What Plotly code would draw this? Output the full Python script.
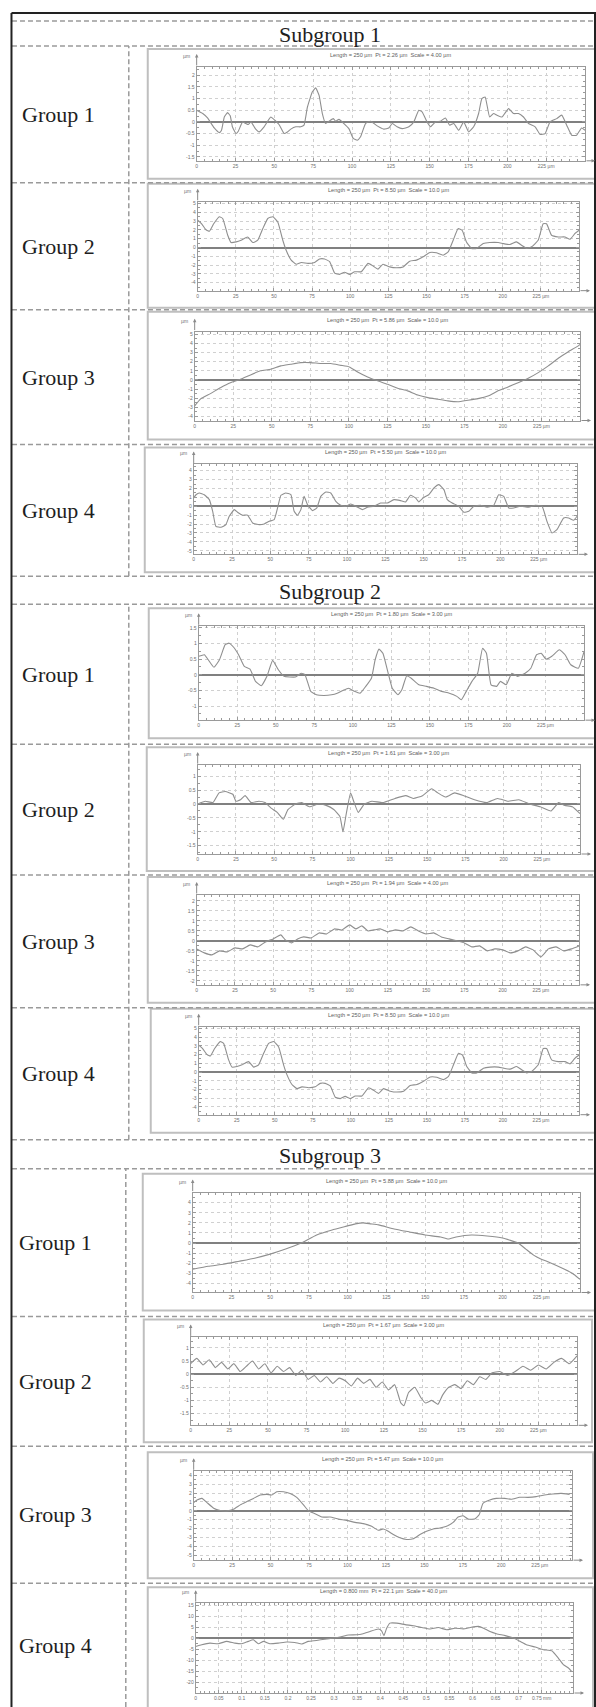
import plotly.graph_objects as go

W, H = 596, 1707

# ---------------- text ----------------
subgroup_labels = ["Subgroup 1", "Subgroup 2", "Subgroup 3"]
group_labels = ["Group 1", "Group 2", "Group 3", "Group 4"]

headers = [
    "Length = 250 µm  Pt = 2.26 µm  Scale = 4.00 µm",
    "Length = 250 µm  Pt = 8.50 µm  Scale = 10.0 µm",
    "Length = 250 µm  Pt = 5.86 µm  Scale = 10.0 µm",
    "Length = 250 µm  Pt = 5.50 µm  Scale = 10.0 µm",
    "Length = 250 µm  Pt = 1.80 µm  Scale = 3.00 µm",
    "Length = 250 µm  Pt = 1.61 µm  Scale = 3.00 µm",
    "Length = 250 µm  Pt = 1.94 µm  Scale = 4.00 µm",
    "Length = 250 µm  Pt = 8.50 µm  Scale = 10.0 µm",
    "Length = 250 µm  Pt = 5.88 µm  Scale = 10.0 µm",
    "Length = 250 µm  Pt = 1.67 µm  Scale = 3.00 µm",
    "Length = 250 µm  Pt = 5.47 µm  Scale = 10.0 µm",
    "Length = 0.800 mm  Pt = 22.1 µm  Scale = 40.0 µm",
]

x_ticks_um = [0, 25, 50, 75, 100, 125, 150, 175, 200, 225]
x_ticktext_um = ["0", "25", "50", "75", "100", "125", "150", "175", "200", "225 µm"]
x_ticks_mm = [0, 0.05, 0.1, 0.15, 0.2, 0.25, 0.3, 0.35, 0.4, 0.45, 0.5, 0.55, 0.6, 0.65, 0.7, 0.75]
x_ticktext_mm = ["0", "0.05", "0.1", "0.15", "0.2", "0.25", "0.3", "0.35", "0.4", "0.45",
                 "0.5", "0.55", "0.6", "0.65", "0.7", "0.75 mm"]

y_ticks_a = [-1.5, -1, -0.5, 0, 0.5, 1, 1.5, 2]
y_ticks_b = [-4, -3, -2, -1, 0, 1, 2, 3, 4, 5]
y_ticks_c = [-5, -4, -3, -2, -1, 0, 1, 2, 3, 4]
y_ticks_d = [-1, -0.5, 0, 0.5, 1, 1.5]
y_ticks_e = [-1.5, -1, -0.5, 0, 0.5, 1]
y_ticks_f = [-2, -1.5, -1, -0.5, 0, 0.5, 1, 1.5, 2]
y_ticks_g = [-4, -3, -2, -1, 0, 1, 2, 3, 4]
y_ticks_h = [-20, -15, -10, -5, 0, 5, 10, 15]

# ---------------- profiles (x, height) ----------------
sg1_g1 = [(0, 0.5), (3.9, 0.36), (7, 0.17), (11.3, -0.26), (14.6, -0.46), (16, -0.36), (17.8, 0.21),
          (19.9, 0.4), (21.6, 0.26), (23, -0.21), (25.3, -0.5), (26.8, -0.4), (29.5, 0), (31.7, -0.07),
          (33.2, -0.11), (34.9, 0), (38, -0.31), (40.2, -0.43), (43.4, -0.21), (47.7, 0.21), (50.3, 0.07),
          (53, -0.11), (56.3, -0.5), (58.4, -0.43), (60.6, -0.31), (63.8, -0.21), (67, -0.21), (69.1, -0.14),
          (71.3, 0.64), (74.5, 1.29), (76.6, 1.46), (78.8, 1.14), (80.9, 0.36), (83, -0.07), (85.2, 0.03),
          (88, 0.14), (89.5, 0.03), (91.6, 0.11), (94.8, -0.07), (98, -0.29), (100.8, -0.71), (103.4, -0.79),
          (105.5, -0.64), (108.7, -0.07), (111.9, 0.03), (116.2, -0.17), (120.5, -0.31), (123.7, -0.26),
          (125.9, -0.07), (129, -0.21), (132.3, -0.29), (136.6, -0.21), (139.8, 0), (143, 0.5), (145.1, 0.43),
          (148.3, 0), (150.5, -0.21), (153.7, 0), (156.9, 0.03), (160.1, 0.17), (162.9, -0.14), (165.5, -0.07),
          (168.7, -0.36), (171.9, 0), (175.1, -0.43), (178.3, -0.21), (181.5, 0.36), (183.6, 1.0), (185.7, 1.07),
          (188.6, 0.21), (191.1, 0.36), (193.3, 0.29), (196.5, 0.21), (200.8, 0.57), (204, 0.36), (207.2, 0.36),
          (210.4, 0.21), (213.6, -0.07), (217.9, -0.21), (221.1, -0.54), (224.3, -0.5), (227.5, 0), (231.8, 0.14),
          (235, 0.29), (238.2, -0.14), (241.4, -0.57), (244.6, -0.57), (247.8, -0.26), (250, -0.36)]

sg1_g2 = [(0, 3.1), (2.6, 2.7), (5.5, 2.0), (7.7, 1.85), (10.5, 2.7), (14.2, 3.5), (16.4, 3.3), (19.7, 1.4),
          (21.9, 0.57), (25.2, 0.64), (28.5, 0.83), (32.8, 1.2), (36.1, 0.57), (39.4, 0.83), (42.7, 2.15),
          (46, 3.3), (49.3, 3.5), (52.5, 2.9), (55.8, 0.83), (58, -0.3), (61.3, -1.43), (64.6, -1.9),
          (67.9, -1.7), (72.3, -1.8), (76.6, -1.7), (79.9, -1.3), (83.2, -1.3), (86.5, -1.6), (89.8, -2.9),
          (93, -3.05), (96.3, -2.8), (99.6, -3.05), (102.9, -2.75), (107.3, -2.75), (111.7, -1.8), (115, -2.1),
          (118.2, -2.45), (121.5, -1.9), (125.9, -2.2), (130.3, -2.3), (134.7, -2.2), (139, -1.55),
          (143.4, -1.43), (147.8, -1.05), (152.2, -0.57), (156.5, -0.6), (160.9, -0.87), (164.2, -0.5),
          (167.5, 0.83), (170.8, 2.15), (173.4, 1.96), (176.2, 0.64), (179.5, -0.1), (182.8, -0.1),
          (187.2, 0.45), (191.5, 0.57), (197, 0.57), (200.3, 0.45), (204.7, 0.34), (209, 0.64), (212.3, 0.26),
          (215.6, -0.1), (218.9, 0.08), (223.2, 0.83), (226.5, 2.7), (228.7, 2.7), (232, 1.4), (236.4, 1.2),
          (240.8, 1.2), (244.1, 0.94), (247.4, 1.6), (250, 1.96)]

sg1_g3 = [(0, -2.85), (3.7, -2.1), (10.2, -1.5), (16.7, -0.85), (23.2, -0.3), (29.7, 0.07), (36.2, 0.55),
          (42.8, 1.0), (49.3, 1.17), (55.8, 1.54), (62.3, 1.72), (68.8, 1.9), (75.3, 1.9), (81.8, 1.8),
          (88.3, 1.8), (94.8, 1.6), (100.3, 1.43), (105.7, 0.88), (112.2, 0.33), (118.7, -0.1), (125.2, -0.48),
          (131.7, -0.92), (138.2, -1.2), (144.7, -1.65), (151.3, -1.94), (157.8, -2.12), (164.3, -2.3),
          (170.8, -2.4), (177.3, -2.23), (183.8, -2.05), (190.3, -1.76), (196.8, -1.2), (203.3, -0.77),
          (209.8, -0.3), (216.4, 0.18), (222.9, 0.8), (229.4, 1.54), (235.9, 2.38), (242.4, 3.1),
          (248.9, 3.74), (250, 3.9)]

sg1_g4 = [(0, 0.94), (1.5, 1.3), (3.7, 1.5), (6.9, 1.3), (10.2, 0.75), (12.4, -0.56), (14.5, -2.25),
          (17.8, -2.36), (21, -2.06), (23.2, -1.12), (26.5, -0.37), (28.6, -0.67), (31.9, -1.0), (35.2, -1.0),
          (38.4, -1.87), (42.8, -2.06), (46, -1.98), (49.3, -1.69), (52.5, -1.5), (54.7, -0.19), (56.9, 1.24),
          (60.1, 1.5), (63.4, 1.3), (65.5, -0.56), (67.7, -1.0), (69.9, -0.37), (72, 1.12), (74.2, 0.19),
          (77.5, -0.49), (80.3, -0.19), (82.9, 1.12), (86.2, 1.6), (89.4, 1.5), (92.7, 0.56), (95.9, 0.11),
          (99.2, 0), (102.4, 0.26), (105.7, 0), (110, -0.37), (113.3, -0.11), (117.6, 0), (121.9, 0.37),
          (126.3, 0.37), (130.6, 0.75), (134.9, 0.64), (138.2, 0.49), (141.4, 1.24), (144.7, 0.94),
          (146.8, 0.49), (150.1, 1.0), (153.3, 1.3), (156.7, 2.06), (159.9, 2.43), (163.2, 1.87),
          (165.4, 0.75), (168.6, 0.37), (172.9, 0), (176.2, -0.67), (179.4, -0.56), (182.7, 0), (187, 0.11),
          (191.4, -0.11), (195.7, 0.11), (198.9, 1.3), (202.2, 1.12), (205.5, -0.19), (208.7, -0.19), (213, 0),
          (218.5, -0.11), (222.8, 0.11), (227.2, 0), (230.4, -1.69), (233.7, -3.0), (236.9, -2.62),
          (241.3, -1.31), (244.5, -1.31), (247.8, -1.57), (250, -1.12)]

sg2_g1 = [(0, 0.59), (3.7, 0.64), (6.2, 0.48), (9.9, 0.24), (13.5, 0.48), (17.2, 0.96), (19.7, 1.01),
          (22.7, 0.88), (25.9, 0.64), (29.6, 0.27), (33.3, 0.18), (36.9, -0.21), (40.6, -0.35), (44.3, -0.05),
          (48, 0.46), (51.7, 0.16), (55.4, -0.05), (59.1, -0.07), (62.8, -0.07), (66.5, 0.05), (69, 0),
          (72.7, -0.53), (76.4, -0.64), (81.3, -0.66), (86.2, -0.64), (89.9, -0.59), (93.6, -0.5),
          (97.3, -0.43), (101, -0.53), (104.7, -0.59), (108.4, -0.37), (112.1, -0.11), (114.5, 0.48),
          (117, 0.82), (119.5, 0.69), (123.2, 0), (125.6, -0.43), (129.3, -0.64), (131.8, -0.48), (135, -0.03),
          (137.9, -0.11), (142.9, -0.32), (147.8, -0.37), (152.7, -0.43), (157.6, -0.53), (162.6, -0.59),
          (167.5, -0.69), (170.4, -0.8), (173.6, -0.53), (177.3, -0.21), (181, 0.05), (184.2, 0.85),
          (186.7, 0.69), (189.7, -0.32), (193.3, -0.37), (195.8, -0.21), (199.5, -0.32), (203.2, 0.05),
          (206.9, -0.05), (211.8, 0.05), (215.5, 0.21), (219.2, 0.64), (222.2, 0.69), (225.4, 0.5),
          (229.1, 0.59), (234, 0.8), (237.7, 0.64), (241.4, 0.32), (246.3, 0.21), (250, 0.74)]

sg2_g2 = [(0, 0), (5, 0.1), (10, 0.05), (14, 0.4), (18, 0.45), (23, 0.35), (25, 0.1), (28, 0.15), (31, 0.3),
          (35, 0.05), (40, 0.1), (44, 0.05), (48, -0.15), (52, -0.3), (56, -0.55), (59, -0.2), (64, 0),
          (68, 0.05), (73, -0.1), (79, 0), (84, -0.05), (89, -0.2), (93, -0.45), (95, -1.0), (97, -0.4),
          (100, 0.4), (102, 0.1), (105, -0.3), (109, 0), (114, 0.1), (121, 0.05), (129, 0.2), (136, 0.3),
          (141, 0.2), (147, 0.3), (153, 0.55), (157, 0.4), (162, 0.25), (168, 0.4), (174, 0.3), (181, 0.15),
          (189, 0.05), (196, 0.2), (203, 0.1), (210, 0.15), (217, 0), (224, -0.1), (231, -0.25), (236, 0.05),
          (240, -0.05), (245, -0.1), (250, -0.35)]

sg2_g3 = [(0, -0.4), (5, -0.6), (10, -0.7), (15, -0.5), (20, -0.55), (25, -0.35), (30, -0.4), (35, -0.2),
          (40, -0.3), (45, -0.05), (50, 0.1), (55, 0.3), (58, 0.05), (62, -0.1), (66, 0.1), (70, 0.2),
          (75, 0.15), (80, 0.4), (85, 0.35), (90, 0.6), (95, 0.55), (100, 0.8), (104, 0.6), (108, 0.75),
          (112, 0.5), (116, 0.55), (120, 0.6), (125, 0.45), (130, 0.55), (135, 0.5), (140, 0.7), (145, 0.5),
          (150, 0.35), (155, 0.4), (160, 0.2), (165, 0.1), (170, 0), (175, -0.1), (180, -0.3), (185, -0.25),
          (190, -0.5), (195, -0.4), (200, -0.45), (205, -0.6), (210, -0.5), (215, -0.3), (220, -0.45),
          (225, -0.8), (230, -0.4), (235, -0.3), (240, -0.5), (245, -0.4), (250, -0.25)]

sg2_g4 = sg1_g2

sg3_g1 = [(0, -2.6), (10, -2.3), (20, -2.1), (30, -1.8), (40, -1.5), (50, -1.1), (60, -0.6), (70, 0),
          (80, 0.8), (90, 1.3), (100, 1.7), (105, 1.9), (110, 2.0), (115, 1.9), (120, 1.8), (130, 1.4),
          (140, 1.1), (150, 0.8), (160, 0.6), (165, 0.4), (170, 0.6), (180, 0.8), (190, 0.7), (200, 0.5),
          (210, 0), (215, -0.6), (220, -1.2), (225, -1.6), (230, -1.9), (240, -2.6), (245, -3.0), (250, -3.6)]

sg3_g2 = [(0, 0.4), (4, 0.6), (8, 0.35), (12, 0.55), (16, 0.25), (20, 0.45), (24, 0.2), (28, 0.4), (32, 0.1),
          (36, 0.3), (40, 0.5), (44, 0.2), (48, 0.4), (52, 0.05), (56, 0.3), (60, 0.1), (64, 0.25), (68, -0.05),
          (72, 0.15), (76, -0.2), (80, -0.05), (84, -0.3), (88, -0.1), (92, -0.35), (96, -0.15), (100, -0.25),
          (104, -0.45), (108, -0.15), (112, -0.35), (116, -0.2), (120, -0.5), (124, -0.3), (128, -0.6),
          (132, -0.4), (136, -1.1), (138, -1.2), (141, -0.7), (145, -0.5), (149, -0.9), (152, -1.1),
          (156, -1.0), (160, -1.15), (163, -0.8), (167, -0.5), (171, -0.4), (175, -0.55), (179, -0.25),
          (183, -0.4), (187, -0.1), (191, -0.2), (195, 0.05), (200, 0.1), (205, -0.05), (210, 0.1), (215, 0.3),
          (220, 0.15), (225, 0.35), (230, 0.2), (235, 0.45), (240, 0.6), (245, 0.4), (250, 0.7)]

sg3_g3 = [(0, 0.93), (2.2, 1.22), (5.4, 1.4), (8.6, 0.93), (13, 0.3), (17.3, 0.04), (21.6, 0), (25.9, 0.19),
          (30.3, 0.67), (34.6, 1.04), (38.9, 1.4), (43.3, 1.78), (47.6, 1.85), (50.8, 1.78), (54, 2.15),
          (58.4, 2.15), (62.7, 1.96), (67, 1.52), (71.4, 0.67), (74.6, 0), (78.9, -0.33), (83.3, -0.7),
          (88.7, -0.7), (94.1, -0.93), (99.5, -1.07), (104.9, -1.3), (110.3, -1.44), (115.7, -1.74),
          (120, -2.19), (123.3, -2.04), (126.5, -2.3), (129.8, -2.67), (134.1, -3.04), (138.4, -3.22),
          (142.7, -3.15), (147.1, -2.67), (151.4, -2.3), (155.7, -2.04), (160.1, -1.93), (164.4, -1.74),
          (168.7, -1.3), (171.9, -0.7), (175.2, -0.56), (178.4, -0.93), (182.7, -0.93), (185.6, -0.44),
          (188.1, 0.85), (192.5, 1.22), (196.8, 1.4), (202.2, 1.4), (206.5, 1.3), (211.9, 1.52), (217.3, 1.52),
          (222.7, 1.6), (228.1, 1.78), (233.5, 1.89), (238.9, 1.96), (244.4, 1.85)]

sg3_g4 = [(0, -3.8), (0.013, -3.0), (0.031, -2.3), (0.049, -2.6), (0.067, -1.5), (0.085, -2.3), (0.1, -2.6),
          (0.114, -1.5), (0.125, -0.8), (0.136, -2.6), (0.147, -1.5), (0.161, -2.6), (0.179, -2.3),
          (0.197, -1.8), (0.215, -2.0), (0.23, -2.7), (0.244, -1.5), (0.262, -1.1), (0.28, -0.5), (0.298, 0),
          (0.313, 0.5), (0.331, 1.4), (0.349, 1.5), (0.363, 2.0), (0.378, 3.0), (0.396, 4.1), (0.403, 3.3),
          (0.408, 1.1), (0.414, 4.5), (0.421, 6.8), (0.436, 6.8), (0.454, 6.1), (0.472, 5.6), (0.49, 4.8),
          (0.508, 4.1), (0.526, 4.8), (0.544, 3.8), (0.562, 4.5), (0.58, 4.2), (0.595, 4.8), (0.613, 5.3),
          (0.624, 4.5), (0.638, 3.0), (0.652, 2.0), (0.671, 1.1), (0.689, 0), (0.703, -1.5), (0.717, -3.0),
          (0.736, -4.1), (0.754, -5.3), (0.772, -5.8), (0.786, -9.1), (0.797, -12.1), (0.808, -13.6),
          (0.815, -15.2)]

profiles = [sg1_g1, sg1_g2, sg1_g3, sg1_g4, sg2_g1, sg2_g2, sg2_g3, sg2_g4,
            sg3_g1, sg3_g2, sg3_g3, sg3_g4]
y_tick_sets = [y_ticks_a, y_ticks_b, y_ticks_b, y_ticks_c, y_ticks_d, y_ticks_e, y_ticks_f, y_ticks_b,
               y_ticks_g, y_ticks_e, y_ticks_c, y_ticks_h]
y_ranges = [(-1.67, 2.36), (-4.9, 5.2), (-4.45, 5.3), (-5.4, 4.7), (-1.45, 1.55), (-1.8, 1.4),
            (-2.2, 2.3), (-4.9, 5.2), (-4.9, 5.0), (-1.95, 1.4), (-5.55, 4.45), (-25, 15.9)]
x_max = [250, 250, 250, 250, 250, 250, 250, 250, 250, 250, 246, 0.818]

# ---------------- page geometry (pixels) ----------------
boxes = [(147, 47, 595, 177), (147, 182, 595, 306), (147, 310, 595, 438), (144, 446, 595, 571),
         (148, 607, 595, 737), (146, 746, 595, 870), (147, 876, 595, 1002), (150, 1008, 595, 1132),
         (142, 1173, 595, 1310), (143, 1319, 592, 1442), (147, 1452, 593, 1578), (147, 1587, 593, 1712)]
plots = [(196, 65, 585, 159), (197, 200, 579, 289), (194, 330, 580, 419), (193, 463, 577, 553),
         (198, 625, 584, 719), (197, 764, 580, 853), (196, 894, 579, 984), (198, 1026, 579, 1114),
         (192, 1192, 580, 1292), (190, 1337, 577, 1425), (193, 1471, 572, 1560), (195, 1603, 573, 1693)]
subgroup_rows = [(19, 44), (575, 603), (1139, 1168)]
group_rows = [[(44, 181), (181, 308), (308, 443), (443, 575)],
              [(603, 743), (743, 874), (874, 1007), (1007, 1139)],
              [(1168, 1316), (1316, 1446), (1446, 1583), (1583, 1707)]]
vline_x = [128, 128, 125]
label_x = [19, 19, 16]


def fx(x):
    return x / W


def fy(y):
    return 1 - y / H


def fmt(v):
    return f"{v:g}"


fig = go.Figure()
shapes = []
annotations = []
layout_axes = {}

GRID = "#d0d0d0"
AX = "#9a9a9a"
TXT = "#707070"
tick_font = dict(family="Liberation Sans", size=5, color=TXT)

for i in range(12):
    n = i + 1
    xr = "x" if n == 1 else f"x{n}"
    yr = "y" if n == 1 else f"y{n}"
    xa = "xaxis" if n == 1 else f"xaxis{n}"
    ya = "yaxis" if n == 1 else f"yaxis{n}"
    pts = profiles[i]
    fig.add_trace(go.Scatter(
        x=[p[0] for p in pts], y=[p[1] for p in pts], xaxis=xr, yaxis=yr, mode="lines",
        line=dict(color="#8f8f8f", width=1.1, shape="spline", smoothing=0.4),
        hoverinfo="skip", showlegend=False))

    pl, pt, pr, pb = plots[i]
    bl, bt, br, bb = boxes[i]
    mm = (i == 11)
    layout_axes[xa] = dict(
        domain=[fx(pl), fx(pr)], range=[0, x_max[i]], anchor=yr,
        showline=True, linecolor=AX, linewidth=1, mirror="ticks",
        ticks="inside", ticklen=3, tickcolor=AX, tickwidth=1,
        tickmode="array", tickvals=x_ticks_mm if mm else x_ticks_um,
        ticktext=x_ticktext_mm if mm else x_ticktext_um, tickfont=tick_font,
        showgrid=True, gridcolor=GRID, griddash="dot", gridwidth=1, zeroline=False,
        minor=dict(ticks="inside", ticklen=2, tickcolor=AX, tickmode="linear", tick0=0,
                   dtick=0.01 if mm else 5, showgrid=False),
        fixedrange=True)
    yt = y_tick_sets[i]
    y_lo, y_hi = y_ranges[i]
    ystep = yt[1] - yt[0]
    layout_axes[ya] = dict(
        domain=[fy(pb), fy(pt)], range=[y_lo, y_hi], anchor=xr,
        showline=True, linecolor=AX, linewidth=1, mirror="ticks",
        ticks="inside", ticklen=3, tickcolor=AX, tickwidth=1,
        tickmode="array", tickvals=yt, ticktext=[fmt(v) for v in yt], tickfont=tick_font,
        showgrid=True, gridcolor=GRID, griddash="dot", gridwidth=1,
        zeroline=True, zerolinecolor="#808080", zerolinewidth=1.8,
        minor=dict(ticks="inside", ticklen=2, tickcolor=AX, tickmode="linear", tick0=0,
                   dtick=ystep / 2, showgrid=False),
        fixedrange=True)

    # chart frame
    shapes.append(dict(type="rect", xref="paper", yref="paper", x0=fx(bl), x1=fx(br), y0=fy(bb), y1=fy(bt),
                       line=dict(color="#bfbfbf", width=2), fillcolor="rgba(0,0,0,0)", layer="below"))
    # header
    annotations.append(dict(text=headers[i], x=fx((pl + pr) / 2), y=fy(pt - 12), xref="paper", yref="paper",
                            showarrow=False, font=dict(family="Liberation Sans", size=5.6, color="#606060"),
                            xanchor="center", yanchor="middle"))
    # unit label on the y axis
    annotations.append(dict(text="µm", x=fx(pl - 5), y=fy(pt - 11), xref="paper", yref="paper",
                            showarrow=False, font=tick_font, xanchor="right", yanchor="middle"))
    # axis arrows
    annotations.append(dict(text="", x=fx(pl), y=fy(pt - 13), xref="paper", yref="paper",
                            showarrow=True, ax=0, ay=13, arrowhead=2, arrowsize=0.7, arrowwidth=1,
                            arrowcolor="#8a8a8a"))
    annotations.append(dict(text="", x=fx(pr + 11), y=fy(pb), xref="paper", yref="paper",
                            showarrow=True, ax=-11, ay=0, arrowhead=2, arrowsize=0.7, arrowwidth=1,
                            arrowcolor="#8a8a8a"))

DASH = dict(color="#9a9a9a", width=1.5, dash="5px,3px")

# horizontal dashed rules
hlines = []
for (a, b) in subgroup_rows:
    hlines += [a, b]
for rows in group_rows:
    for (a, b) in rows[:-1]:
        hlines.append(b)
for yv in hlines:
    shapes.append(dict(type="line", xref="paper", yref="paper", x0=fx(11), x1=1, y0=fy(yv), y1=fy(yv),
                       line=DASH, layer="below"))

# vertical dashed rules and labels
for s in range(3):
    rows = group_rows[s]
    shapes.append(dict(type="line", xref="paper", yref="paper", x0=fx(vline_x[s]), x1=fx(vline_x[s]),
                       y0=fy(rows[-1][1]), y1=fy(rows[0][0]), line=DASH, layer="below"))
    a, b = subgroup_rows[s]
    annotations.append(dict(text=subgroup_labels[s], x=fx(330), y=fy((a + b) / 2 + 1), xref="paper",
                            yref="paper", showarrow=False, xanchor="center", yanchor="middle",
                            font=dict(family="Liberation Serif", size=22, color="#1e1e1e")))
    for g, (a, b) in enumerate(rows):
        annotations.append(dict(text=group_labels[g], x=fx(label_x[s]), y=fy((a + b) / 2), xref="paper",
                                yref="paper", showarrow=False, xanchor="left", yanchor="middle",
                                font=dict(family="Liberation Serif", size=22, color="#1e1e1e")))

# outer solid border
BORDER = dict(color="#222222", width=2)
shapes.append(dict(type="line", xref="paper", yref="paper", x0=fx(10.5), x1=fx(10.5), y0=0, y1=fy(11),
                   line=BORDER))
shapes.append(dict(type="line", xref="paper", yref="paper", x0=fx(10.5), x1=1, y0=fy(11), y1=fy(11),
                   line=BORDER))
shapes.append(dict(type="line", xref="paper", yref="paper", x0=fx(595), x1=fx(595), y0=0, y1=fy(11),
                   line=BORDER))

fig.update_layout(
    width=W, height=H, margin=dict(l=0, r=0, t=0, b=0),
    paper_bgcolor="white", plot_bgcolor="white", showlegend=False,
    shapes=shapes, annotations=annotations, **layout_axes)

fig.write_html("out.html", config={"displayModeBar": False},
               post_script="document.body.style.margin='0';document.body.style.overflow='hidden';")
